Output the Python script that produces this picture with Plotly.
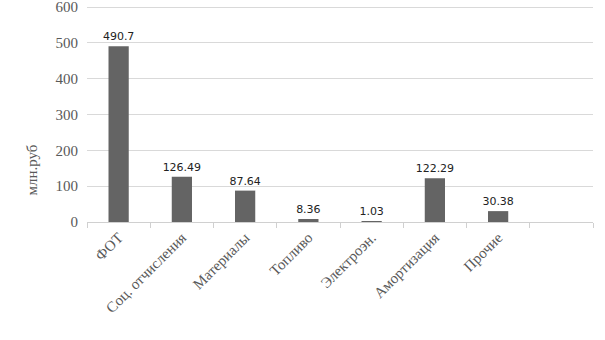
import plotly.graph_objects as go

categories = ["ФОТ", "Соц. отчисления", "Материалы", "Топливо", "Электроэн.", "Амортизация", "Прочие"]
values = [490.7, 126.49, 87.64, 8.36, 1.03, 122.29, 30.38]
y_ticks = [0, 100, 200, 300, 400, 500, 600]
y_title = "млн.руб"
n_slots = 8  # chart has one extra empty category slot

serif = "Liberation Serif, Times New Roman, serif"
gray = "#595959"

fig = go.Figure()
fig.add_trace(go.Bar(
    x=list(range(len(categories))), y=values,
    marker_color="#646464", marker_line_width=0,
    text=[f"{v:g}" for v in values], textposition="outside",
    constraintext="none",
    textfont=dict(family="DejaVu Sans", size=11, color="#222222"),
    cliponaxis=False, width=0.32, hoverinfo="skip",
))
# invisible trace on overlay axis for boundary ticks
fig.add_trace(go.Scatter(x=[-0.5, n_slots - 0.5], y=[0, 0], xaxis="x2", mode="none",
                         showlegend=False, hoverinfo="skip"))

fig.update_layout(
    width=605, height=340,
    margin=dict(l=87, r=12, t=6, b=118, autoexpand=False),
    plot_bgcolor="white", paper_bgcolor="white",
    showlegend=False,
    xaxis=dict(
        range=[-0.5, n_slots - 0.5], automargin=False,
        tickmode="array", tickvals=list(range(len(categories))), ticktext=categories,
        tickangle=-45, ticks="", showgrid=False, zeroline=False,
        showline=True, linecolor="#d0d0d0", linewidth=1,
        tickfont=dict(family=serif, size=15, color=gray),
    ),
    xaxis2=dict(
        overlaying="x", range=[-0.5, n_slots - 0.5], automargin=False,
        tickmode="array", tickvals=[i - 0.5 for i in range(n_slots + 1)],
        ticktext=[""] * (n_slots + 1),
        ticks="outside", ticklen=5, tickcolor="#d0d0d0", tickwidth=1,
        showgrid=False, zeroline=False, showline=False, side="bottom",
        anchor="y",
    ),
    yaxis=dict(
        range=[0, 603], tickmode="array", tickvals=y_ticks, automargin=False,
        showgrid=True, gridcolor="#d9d9d9", gridwidth=1,
        zeroline=False, showline=False, ticks="",
        tickfont=dict(family=serif, size=15, color=gray),
        ticklabelstandoff=8, ticklabeloverflow="allow",
    ),
    annotations=[dict(
        text=y_title, textangle=-90, showarrow=False,
        xref="paper", yref="paper", x=-0.109, y=0.242,
        xanchor="center", yanchor="middle",
        font=dict(family=serif, size=15, color=gray),
    )],
    bargap=0.68,
)

fig.write_html("out.html")
